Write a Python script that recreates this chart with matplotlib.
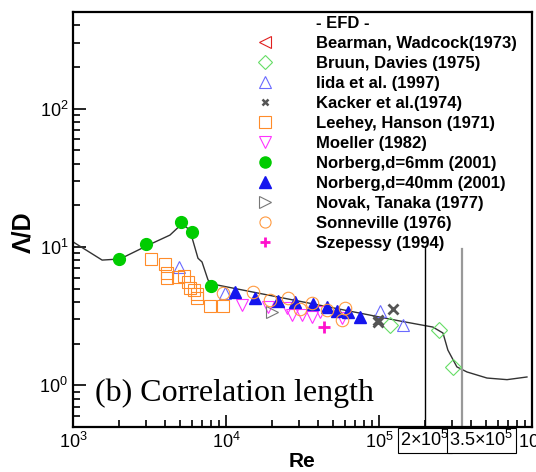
# Correlation length vs Re (EFD comparison)

import numpy as np
import matplotlib.pyplot as plt
from matplotlib.lines import Line2D

plt.rcParams['font.family'] = ['Liberation Sans', 'DejaVu Sans']
plt.rcParams['mathtext.default'] = 'regular'

# computed curve
curve_re = [1000, 1550, 2030, 3090, 4300, 5150, 5800, 6560, 6970, 7630, 8100,
            16000, 137000, 225000, 262000, 282000, 323000, 376000, 508000, 687000, 927000]
curve_ld = [10.9, 8.05, 8.2, 10.3, 12.2, 14.7, 13.3, 8.3, 7.8, 5.78, 5.41,
            4.66, 2.92, 2.64, 2.39, 1.80, 1.36, 1.25, 1.13, 1.10, 1.15]

# experiments
bearman_re, bearman_ld = [], []
bruun_re = [118000, 246000, 305000]
bruun_ld = [2.74, 2.52, 1.36]
iida_re = [4930, 9840, 101600, 143600]
iida_ld = [7.2, 4.66, 3.45, 2.74]
kacker_re = [123600, 98400, 98000]
kacker_ld = [3.57, 2.87, 2.95]
leehey_re = [3240, 4000, 4110, 4110, 4850, 5300, 5650, 5820, 6180, 6460, 6460, 7850, 9550]
leehey_ld = [8.2, 7.5, 6.5, 6.0, 6.1, 6.2, 5.6, 5.1, 4.9, 4.6, 4.3, 3.75, 3.75]
moeller_re = [12700, 18800, 25000, 27000, 31400, 36500, 41100, 57300]
moeller_ld = [3.81, 3.69, 3.63, 3.23, 3.23, 3.12, 3.40, 3.07]
norberg6_re = [2000, 3000, 5080, 6000, 7980]
norberg6_ld = [8.2, 10.5, 15.2, 12.8, 5.2]
norberg40_re = [11460, 15480, 21900, 28200, 37100, 45700, 53100, 62700, 75100]
norberg40_ld = [4.73, 4.28, 4.07, 4.0, 3.87, 3.69, 3.45, 3.40, 3.12]
novak_re = [20000]
novak_ld = [3.40]
sonne_re = [9550, 15000, 19400, 25400, 30500, 36500, 45700, 57300, 60000]
sonne_ld = [4.66, 4.73, 4.14, 4.28, 3.56, 3.95, 3.51, 2.97, 3.63]
szep_re = [43800]
szep_ld = [2.64]

fig = plt.figure(figsize=(5.36, 4.72), dpi=100)
ax = fig.add_axes([0.1362, 0.0953, 0.8563, 0.8792])

ax.plot(curve_re, curve_ld, color='#333333', lw=1.0)
ax.plot([2e5, 2e5], [0.5, 10.2], color='black', lw=1.0)
ax.plot([3.5e5, 3.5e5], [0.5, 9.7], color='#999999', lw=1.6)

ms = 9
ax.plot(bearman_re, bearman_ld, ls='none', marker='<', mfc='none', mec='#e02020', ms=ms, mew=0.8)
ax.plot(bruun_re, bruun_ld, ls='none', marker='D', mfc='none', mec='#66dd66', ms=8, mew=0.8)
ax.plot(iida_re, iida_ld, ls='none', marker='^', mfc='none', mec='#6a6aff', ms=ms, mew=0.8)
ax.plot(kacker_re, kacker_ld, ls='none', marker='x', color='#555555', ms=6.5, mew=2)
ax.plot(leehey_re, leehey_ld, ls='none', marker='s', mfc='none', mec='#ff8c2a', ms=ms, mew=0.8)
ax.plot(moeller_re, moeller_ld, ls='none', marker='v', mfc='none', mec='#ff33ff', ms=ms, mew=0.8)
ax.plot(norberg6_re, norberg6_ld, ls='none', marker='o', color='#00cc00', ms=8.5)
ax.plot(norberg40_re, norberg40_ld, ls='none', marker='^', color='#1515ee', ms=8.5)
ax.plot(novak_re, novak_ld, ls='none', marker='>', mfc='none', mec='#777777', ms=ms, mew=0.8)
ax.plot(sonne_re, sonne_ld, ls='none', marker='o', mfc='none', mec='#ff9a40', ms=ms, mew=0.8)
ax.plot(szep_re, szep_ld, ls='none', marker='+', color='#ff11cc', ms=8, mew=2)

ax.set_xscale('log')
ax.set_yscale('log')
ax.set_xlim(1e3, 1e6)
ax.set_ylim(0.5, 500)

for s in ax.spines.values():
    s.set_linewidth(1.6)
ax.tick_params(which='both', direction='in', top=False, right=False, labelsize=13, width=1.2)
ax.tick_params(which='major', length=9)
ax.tick_params(which='minor', length=5)

ax.set_xlabel('Re', fontsize=15, fontweight='bold', labelpad=0)
ax.set_ylabel('Λ/D', fontsize=18, fontweight='bold')
ax.yaxis.set_label_coords(-0.083, 0.47)

ax.text(0.047, 0.082, '(b) Correlation length', transform=ax.transAxes,
        family=['Liberation Serif', 'DejaVu Serif'], fontsize=23, va='center', ha='left')

# boxed labels under the axis
box = dict(boxstyle='square,pad=0.15', fc='white', ec='black', lw=0.8)
ax.text(0.767, -0.032, r'$2{\times}10^5$', transform=ax.transAxes, fontsize=13,
        ha='center', va='center', bbox=box)
ax.text(0.89, -0.032, r'$3.5{\times}10^5$', transform=ax.transAxes, fontsize=13,
        ha='center', va='center', bbox=box)

labels = ['- EFD -', 'Bearman, Wadcock(1973)', 'Bruun, Davies (1975)', 'Iida et al. (1997)',
          'Kacker et al.(1974)', 'Leehey, Hanson (1971)', 'Moeller (1982)',
          'Norberg,d=6mm (2001)', 'Norberg,d=40mm (2001)', 'Novak, Tanaka (1977)',
          'Sonneville (1976)', 'Szepessy (1994)']
lw = 0.8
handles = [Line2D([], [], ls='none'),
           Line2D([], [], ls='none', marker='<', mfc='none', mec='#e02020', ms=8, mew=lw),
           Line2D([], [], ls='none', marker='D', mfc='none', mec='#66dd66', ms=7, mew=lw),
           Line2D([], [], ls='none', marker='^', mfc='none', mec='#6a6aff', ms=8, mew=lw),
           Line2D([], [], ls='none', marker='x', color='#555555', ms=5, mew=1.8),
           Line2D([], [], ls='none', marker='s', mfc='none', mec='#ff8c2a', ms=8, mew=lw),
           Line2D([], [], ls='none', marker='v', mfc='none', mec='#ff33ff', ms=8, mew=lw),
           Line2D([], [], ls='none', marker='o', color='#00cc00', ms=8),
           Line2D([], [], ls='none', marker='^', color='#1515ee', ms=8),
           Line2D([], [], ls='none', marker='>', mfc='none', mec='#777777', ms=8, mew=lw),
           Line2D([], [], ls='none', marker='o', mfc='none', mec='#ff9a40', ms=8, mew=lw),
           Line2D([], [], ls='none', marker='+', color='#ff11cc', ms=7, mew=2)]
leg = ax.legend(handles, labels, loc='upper left', bbox_to_anchor=(0.391, 0.990),
                frameon=False, prop={'weight': 'bold', 'size': 12},
                borderpad=0, borderaxespad=0, handlelength=1.5, handletextpad=2.31,
                labelspacing=0.30)

plt.savefig('out.png', dpi=100)
